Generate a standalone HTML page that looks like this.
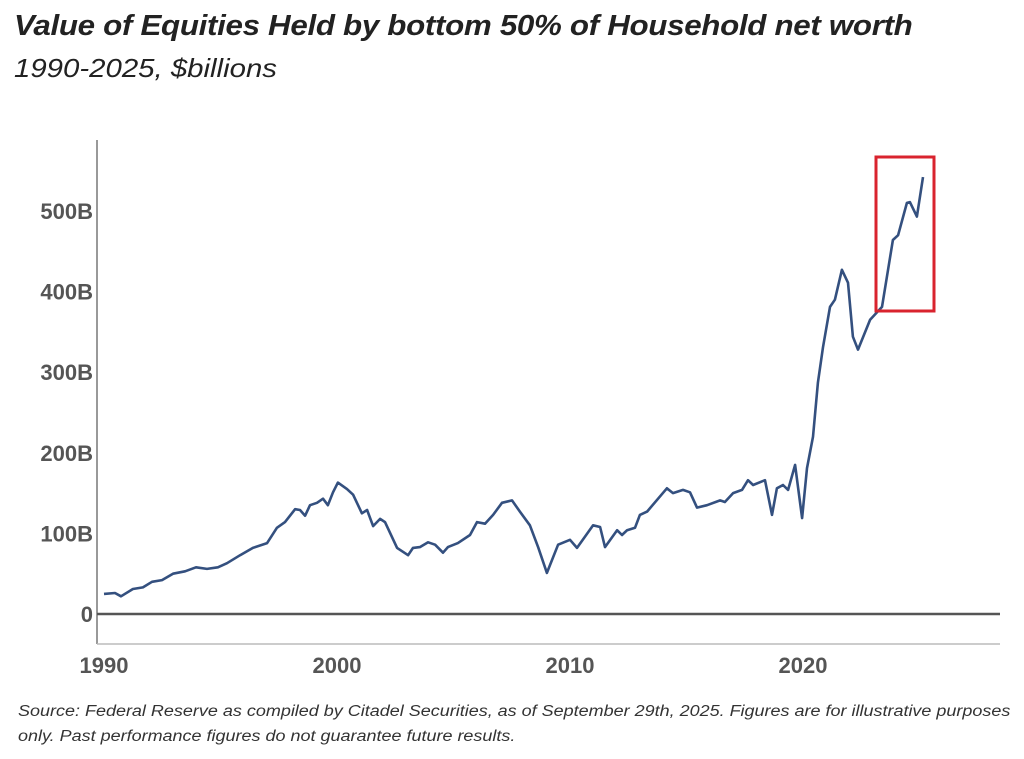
<!DOCTYPE html>
<html><head><meta charset="utf-8"><style>
body{margin:0;background:#fff;width:1024px;height:759px;overflow:hidden;font-family:"Liberation Sans",sans-serif}
.t{position:absolute;left:14px;top:10px;font-size:29px;font-weight:bold;font-style:italic;color:#222;letter-spacing:-0.3px;transform-origin:0 0;transform:scaleX(1.08);white-space:nowrap}
.s{position:absolute;left:14px;top:53px;font-size:26px;font-style:italic;color:#222;transform-origin:0 0;transform:scaleX(1.13);white-space:nowrap}
.src{position:absolute;left:18px;top:699px;font-size:15.5px;font-style:italic;color:#333;line-height:25px;transform-origin:0 0;transform:scaleX(1.16);white-space:nowrap}
</style></head><body>
<div class="t">Value of Equities Held by bottom 50% of Household net worth</div>
<div class="s">1990-2025, $billions</div>
<svg id="c" width="1024" height="759" style="position:absolute;left:0;top:0"></svg>
<div class="src">Source: Federal Reserve as compiled by Citadel Securities, as of September 29th, 2025. Figures are for illustrative purposes<br>only. Past performance figures do not guarantee future results.</div>
<script>
const years=[1990.0,1990.47,1990.73,1991.24,1991.67,1992.06,1992.49,1992.96,1993.48,1993.95,1994.42,1994.89,1995.28,1995.84,1996.39,1997.0,1997.42,1997.77,1998.2,1998.41,1998.63,1998.84,1999.14,1999.4,1999.61,1999.83,2000.04,2000.43,2000.69,2001.07,2001.29,2001.55,2001.85,2002.06,2002.58,2003.05,2003.26,2003.56,2003.91,2004.21,2004.55,2004.76,2005.19,2005.71,2006.01,2006.35,2006.7,2007.08,2007.51,2007.85,2008.28,2008.63,2009.01,2009.49,2010.0,2010.3,2010.99,2011.29,2011.5,2012.02,2012.23,2012.45,2012.79,2013.0,2013.31,2014.16,2014.42,2014.85,2015.15,2015.45,2015.88,2016.44,2016.65,2017.0,2017.38,2017.64,2017.86,2018.37,2018.67,2018.88,2019.14,2019.36,2019.66,2019.96,2020.17,2020.43,2020.64,2020.86,2021.16,2021.37,2021.67,2021.93,2022.14,2022.36,2022.88,2023.39,2023.86,2024.08,2024.46,2024.59,2024.89,2025.15];
const values=[25,26,22,31,33,40,42,50,53,58,56,58,63,73,82,88,107,114,130,129,122,135,138,143,135,151,163,155,148,125,129,109,118,114,82,73,82,83,89,86,76,83,88,98,114,112,123,138,141,127,110,83,51,86,92,82,110,108,83,104,98,104,107,123,127,156,150,154,151,132,135,141,139,150,154,166,160,166,123,156,160,154,185,119,181,220,287,331,381,390,427,411,344,328,365,381,464,470,510,511,493,542];
const yTicks=[0,100,200,300,400,500];
const yTickLabels=["0","100B","200B","300B","400B","500B"];
const xTicks=[1990,2000,2010,2020];
const xTickLabels=["1990","2000","2010","2020"];
const X=v=>104+(v-1990)*23.3;
const Y=v=>614-v*0.806;
const svg=document.getElementById('c');const NS='http://www.w3.org/2000/svg';
function mk(t,a){const e=document.createElementNS(NS,t);for(const k in a)e.setAttribute(k,a[k]);svg.appendChild(e);return e;}
let e=mk('line',{x1:97,y1:140,x2:97,y2:644,stroke:'#999','stroke-width':2});


e=mk('line',{x1:97,y1:644,x2:1000,y2:644,stroke:'#bbb','stroke-width':1.5});


e=mk('line',{x1:97,y1:Y(0),x2:1000,y2:Y(0),stroke:'#555','stroke-width':2.5});


yTicks.forEach((v,i)=>{const t=mk('text',{x:93,y:Y(v)+8,'text-anchor':'end','font-size':22,'font-weight':'bold',fill:'#555','font-family':'Liberation Sans, sans-serif'});t.textContent=yTickLabels[i];

});
xTicks.forEach((v,i)=>{const t=mk('text',{x:X(v),y:673,'text-anchor':'middle','font-size':22,'font-weight':'bold',fill:'#555','font-family':'Liberation Sans, sans-serif'});t.textContent=xTickLabels[i];

});
const d=years.map((y,i)=>(i?'L':'M')+X(y).toFixed(1)+','+Y(values[i]).toFixed(1)).join('');
e=mk('path',{d:d,fill:'none',stroke:'#34507f','stroke-width':2.6,'stroke-linejoin':'round'});


e=mk('rect',{x:876,y:157,width:58,height:154,fill:'none',stroke:'#d9232e','stroke-width':3});


</script>
</body></html>
